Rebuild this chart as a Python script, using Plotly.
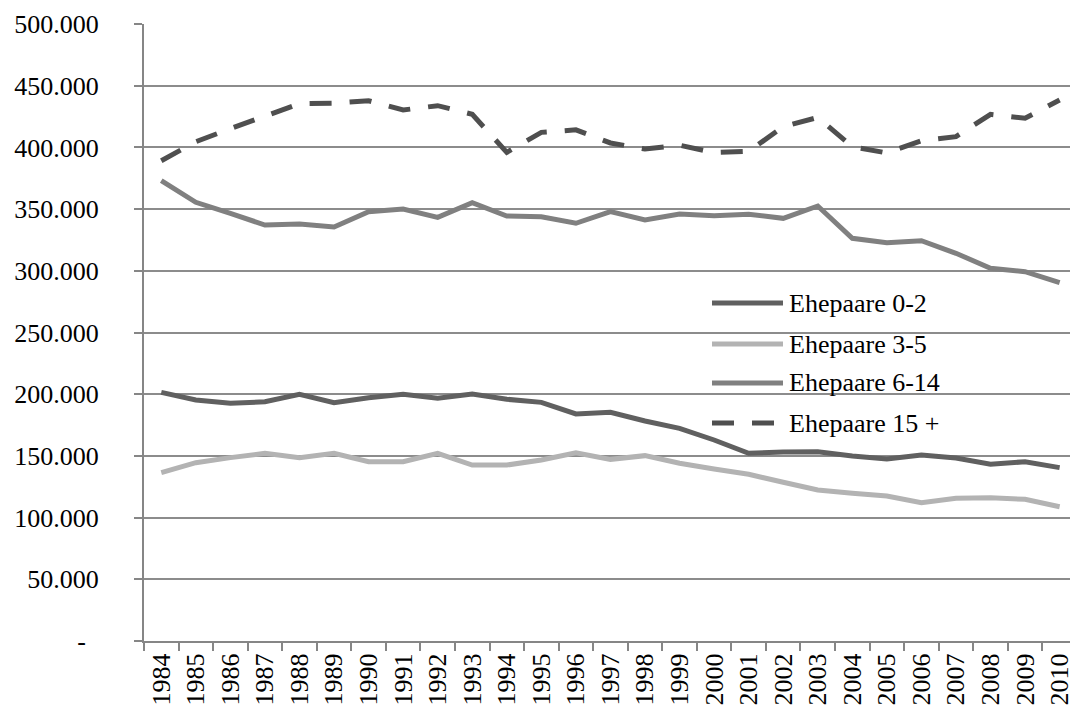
import plotly.graph_objects as go

# Years on the category axis
years = [str(y) for y in range(1984, 2011)]

# Number of married couples by age of youngest child
ehepaare_0_2 = [201500, 195300, 192600, 193900, 199900, 193100, 197200, 199900, 196700,
                200200, 195900, 193400, 184000, 185300, 178300, 172300, 162900, 152100,
                153200, 153400, 149900, 147500, 150700, 148300, 143200, 145300, 140500]
ehepaare_3_5 = [136400, 144500, 148600, 152100, 148600, 152100, 145300, 145300, 152100,
                142600, 142600, 146700, 152500, 147200, 150200, 144000, 139400, 135100,
                128600, 122400, 119700, 117500, 112100, 115600, 116100, 114800, 108800]
ehepaare_6_14 = [373000, 355500, 346600, 337100, 337900, 335500, 347900, 350000, 343300,
                 355200, 344400, 343800, 338500, 347900, 341200, 346000, 344700, 345800,
                 342500, 352500, 326300, 322800, 324400, 314200, 302000, 299300, 290400]
ehepaare_15 = [389200, 404600, 415200, 425400, 435500, 435800, 437800, 430300, 433800,
               426800, 396000, 412200, 414200, 403600, 398700, 401800, 395800, 396800,
               416800, 424300, 400600, 395500, 405400, 408700, 426800, 423600, 438400]

# Y axis ticks (German thousands separator, accounting dash for zero)
y_tickvals = [0, 50000, 100000, 150000, 200000, 250000, 300000, 350000, 400000, 450000, 500000]
y_ticktext = ["-\u00a0\u00a0", "50.000", "100.000", "150.000", "200.000", "250.000",
              "300.000", "350.000", "400.000", "450.000", "500.000"]

series_names = ["Ehepaare 0-2", "Ehepaare 3-5", "Ehepaare 6-14", "Ehepaare 15 +"]
series_values = [ehepaare_0_2, ehepaare_3_5, ehepaare_6_14, ehepaare_15]
series_colors = ["#606060", "#b3b3b3", "#808080", "#4f4f4f"]
series_dash = ["solid", "solid", "solid", "22px,18px"]

FONT = "Times New Roman, 'Liberation Serif', serif"
W, H = 1070, 709
ML, MT, MB, MR = 144, 24, 68, 0
PW, PH = W - ML - MR, H - MT - MB

fig = go.Figure()
for name, vals, col, dash in zip(series_names, series_values, series_colors, series_dash):
    fig.add_trace(go.Scatter(
        x=years, y=vals, name=name, mode="lines",
        line=dict(color=col, width=5, dash=dash),
        showlegend=False,
    ))

# Legend drawn as line samples plus labels
legend_rows = [303, 344, 383, 423]
shapes = []
annotations = []
for row, name, col, dash in zip(legend_rows, series_names, series_colors, series_dash):
    yp = (H - MB - row) / PH
    x0 = (712 - ML) / PW
    x1 = (783 - ML) / PW
    shapes.append(dict(type="line", xref="paper", yref="paper", x0=x0, x1=x1, y0=yp, y1=yp,
                       line=dict(color=col, width=5, dash=dash)))
    annotations.append(dict(xref="paper", yref="paper", x=(787 - ML) / PW, y=yp,
                            xanchor="left", yanchor="middle", showarrow=False,
                            text=name, font=dict(family=FONT, size=26, color="#000000")))

fig.update_layout(
    width=W, height=H,
    margin=dict(l=ML, r=MR, t=MT, b=MB, autoexpand=False),
    paper_bgcolor="white", plot_bgcolor="white",
    font=dict(family=FONT, size=26, color="#000000"),
    shapes=shapes, annotations=annotations,
    showlegend=False,
)
fig.update_xaxes(
    type="category", range=[-0.5, 26.3],
    tickson="boundaries", ticks="outside", ticklen=8, tickwidth=1.5, tickcolor="#868686",
    tickangle=-90, showgrid=False, zeroline=False,
    showline=True, linecolor="#868686", linewidth=2,
    tickfont=dict(family=FONT, size=26, color="#000000"),
)
fig.update_yaxes(
    range=[0, 500000], tickmode="array", tickvals=y_tickvals, ticktext=y_ticktext,
    ticks="outside", ticklen=8, tickwidth=1.5, tickcolor="#868686",
    showgrid=True, gridcolor="#8c8c8c", gridwidth=1.5, zeroline=False,
    showline=True, linecolor="#868686", linewidth=2,
    ticklabelstandoff=30,
    tickfont=dict(family=FONT, size=26, color="#000000"),
)

fig.write_html("out.html")
